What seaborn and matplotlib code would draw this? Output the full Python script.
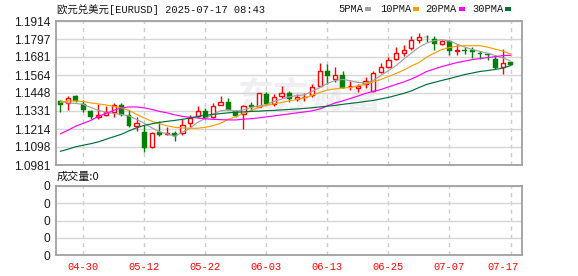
import numpy as np
import pandas as pd
import matplotlib
matplotlib.use("Agg")
import matplotlib.pyplot as plt
import matplotlib.transforms as mtransforms
from matplotlib.patches import Rectangle
import seaborn as sns

# ---------------- data ----------------
dates = pd.bdate_range("2025-04-25", "2025-07-17").strftime("%m-%d").tolist()

opens = [1.1393, 1.1380, 1.1425, 1.1376, 1.1333, 1.1294, 1.1304, 1.1326, 1.1372, 1.1307,
         1.1231, 1.1197, 1.1100, 1.1193, 1.1179, 1.1188, 1.1186, 1.1251, 1.1298, 1.1333,
         1.1290, 1.1372, 1.1391, 1.1328, 1.1311, 1.1372, 1.1359, 1.1440, 1.1376, 1.1427,
         1.1449, 1.1406, 1.1420, 1.1432, 1.1494, 1.1591, 1.1537, 1.1565, 1.1490, 1.1483,
         1.1505, 1.1462, 1.1585, 1.1617, 1.1666, 1.1709, 1.1737, 1.1791, 1.1811, 1.1800,
         1.1767, 1.1785, 1.1720, 1.1727, 1.1729, 1.1709, 1.1697, 1.1671, 1.1613, 1.1649]
highs = [1.1404, 1.1427, 1.1432, 1.1404, 1.1339, 1.1374, 1.1365, 1.1385, 1.1380, 1.1337,
         1.1290, 1.1242, 1.1193, 1.1268, 1.1225, 1.1203, 1.1279, 1.1304, 1.1365, 1.1350,
         1.1380, 1.1425, 1.1412, 1.1339, 1.1372, 1.1389, 1.1449, 1.1457, 1.1440, 1.1494,
         1.1462, 1.1440, 1.1449, 1.1505, 1.1640, 1.1634, 1.1617, 1.1587, 1.1527, 1.1509,
         1.1548, 1.1587, 1.1645, 1.1682, 1.1748, 1.1759, 1.1817, 1.1838, 1.1821, 1.1817,
         1.1789, 1.1791, 1.1763, 1.1746, 1.1746, 1.1720, 1.1703, 1.1692, 1.1731, 1.1649]
lows = [1.1326, 1.1337, 1.1386, 1.1326, 1.1279, 1.1279, 1.1296, 1.1295, 1.1298, 1.1225,
        1.1204, 1.1068, 1.1091, 1.1171, 1.1175, 1.1139, 1.1178, 1.1225, 1.1285, 1.1279,
        1.1285, 1.1370, 1.1337, 1.1294, 1.1214, 1.1328, 1.1354, 1.1372, 1.1365, 1.1414,
        1.1386, 1.1397, 1.1393, 1.1419, 1.1490, 1.1505, 1.1516, 1.1479, 1.1466, 1.1457,
        1.1483, 1.1457, 1.1580, 1.1608, 1.1662, 1.1688, 1.1724, 1.1769, 1.1780, 1.1727,
        1.1761, 1.1694, 1.1692, 1.1698, 1.1672, 1.1671, 1.1660, 1.1602, 1.1569, 1.1630]
closes = [1.1372, 1.1417, 1.1397, 1.1337, 1.1294, 1.1304, 1.1322, 1.1369, 1.1305, 1.1236,
          1.1251, 1.1091, 1.1186, 1.1178, 1.1188, 1.1167, 1.1242, 1.1285, 1.1333, 1.1285,
          1.1365, 1.1391, 1.1339, 1.1298, 1.1363, 1.1354, 1.1445, 1.1376, 1.1423, 1.1445,
          1.1408, 1.1423, 1.1423, 1.1488, 1.1587, 1.1559, 1.1565, 1.1483, 1.1494, 1.1496,
          1.1527, 1.1580, 1.1613, 1.1664, 1.1709, 1.1724, 1.1791, 1.1813, 1.1809, 1.1767,
          1.1785, 1.1720, 1.1729, 1.1722, 1.1711, 1.1701, 1.1694, 1.1611, 1.1643, 1.1630]

ma5 = [1.1393, 1.1383, 1.1380, 1.1374, 1.1354, 1.1335, 1.1322, 1.1315, 1.1309, 1.1299,
       1.1277, 1.1251, 1.1222, 1.1196, 1.1183, 1.1167, 1.1193, 1.1219, 1.1257, 1.1283,
       1.1309, 1.1332, 1.1339, 1.1328, 1.1338, 1.1354, 1.1364, 1.1372, 1.1393, 1.1408,
       1.1423, 1.1430, 1.1436, 1.1458, 1.1483, 1.1509, 1.1529, 1.1535, 1.1527, 1.1516,
       1.1512, 1.1529, 1.1561, 1.1593, 1.1625, 1.1667, 1.1706, 1.1744, 1.1771, 1.1787,
       1.1793, 1.1784, 1.1764, 1.1745, 1.1729, 1.1717, 1.1706, 1.1690, 1.1674, 1.1656]
ma10 = [1.1386, 1.1396, 1.1396, 1.1393, 1.1383, 1.1377, 1.1370, 1.1361, 1.1351, 1.1335,
        1.1309, 1.1286, 1.1264, 1.1248, 1.1235, 1.1225, 1.1221, 1.1219, 1.1219, 1.1225,
        1.1236, 1.1251, 1.1277, 1.1294, 1.1315, 1.1335, 1.1354, 1.1367, 1.1377, 1.1386,
        1.1396, 1.1406, 1.1416, 1.1432, 1.1451, 1.1467, 1.1474, 1.1480, 1.1483, 1.1493,
        1.1506, 1.1519, 1.1535, 1.1554, 1.1574, 1.1596, 1.1622, 1.1645, 1.1680, 1.1706,
        1.1729, 1.1742, 1.1751, 1.1754, 1.1754, 1.1754, 1.1745, 1.1731, 1.1719, 1.1700]
ma20 = [1.1183, 1.1206, 1.1232, 1.1251, 1.1270, 1.1296, 1.1315, 1.1335, 1.1351, 1.1357,
        1.1357, 1.1351, 1.1341, 1.1328, 1.1319, 1.1306, 1.1296, 1.1290, 1.1286, 1.1280,
        1.1277, 1.1275, 1.1273, 1.1273, 1.1278, 1.1281, 1.1286, 1.1293, 1.1299, 1.1306,
        1.1312, 1.1319, 1.1325, 1.1332, 1.1344, 1.1364, 1.1383, 1.1396, 1.1412, 1.1428,
        1.1445, 1.1458, 1.1470, 1.1487, 1.1503, 1.1519, 1.1538, 1.1561, 1.1587, 1.1603,
        1.1619, 1.1632, 1.1645, 1.1654, 1.1664, 1.1671, 1.1677, 1.1683, 1.1690, 1.1692]
ma30 = [1.1070, 1.1083, 1.1099, 1.1109, 1.1119, 1.1131, 1.1148, 1.1164, 1.1180, 1.1202,
        1.1222, 1.1238, 1.1248, 1.1257, 1.1264, 1.1270, 1.1277, 1.1286, 1.1296, 1.1303,
        1.1309, 1.1314, 1.1319, 1.1323, 1.1325, 1.1328, 1.1330, 1.1333, 1.1335, 1.1338,
        1.1341, 1.1344, 1.1348, 1.1352, 1.1357, 1.1362, 1.1367, 1.1374, 1.1380, 1.1386,
        1.1393, 1.1399, 1.1409, 1.1419, 1.1432, 1.1445, 1.1461, 1.1483, 1.1503, 1.1516,
        1.1529, 1.1541, 1.1554, 1.1567, 1.1577, 1.1587, 1.1593, 1.1600, 1.1609, 1.1625]

volume = [0] * 60
price_ticks = [1.0981, 1.1098, 1.1214, 1.1331, 1.1448, 1.1564, 1.1681, 1.1797, 1.1914]
xtick_labels = ["04-30", "05-12", "05-22", "06-03", "06-13", "06-25", "07-07", "07-17"]
ma_names = ["5PMA", "10PMA", "20PMA", "30PMA"]
title = "欧元兑美元[EURUSD] 2025-07-17 08:43"
vol_title = "成交量:0"

# ---------------- style ----------------
sns.set_theme(style="white")
plt.rcParams['font.family'] = ['Liberation Sans', 'Noto Sans CJK SC', 'DejaVu Sans']
MONO = ['Liberation Mono', 'Noto Sans CJK SC', 'DejaVu Sans']
CJK = ['Noto Sans CJK SC', 'DejaVu Sans']
ma_colors = ['#a0a0a0', '#f5a000', '#ff00ff', '#006f3a']
UP, DOWN = '#ff0000', '#008000'
BORDER = '#a0a0a0'

W, H = 578, 276
fig = plt.figure(figsize=(W / 100, H / 100), dpi=100)
fig.patch.set_facecolor('white')

def rect(l, t, r, b):
    return [l / W, 1 - b / H, (r - l) / W, (b - t) / H]

ax = fig.add_axes(rect(56, 21, 522, 165))
axv = fig.add_axes(rect(56, 186, 522, 255))

idx = np.arange(len(dates))
o = np.array(opens); h = np.array(highs); l = np.array(lows); c = np.array(closes)
up = c >= o
tick_pos = [dates.index(t) for t in xtick_labels]

# watermark
ax.text(0.545, 0.47, "东方财富", transform=ax.transAxes, ha='center', va='center',
        fontsize=26, color='#eeeef3', family=CJK, fontweight='bold', style='italic', zorder=0.5)

# candles
ax.vlines(idx[up], l[up], h[up], color=UP, lw=1.0, zorder=2)
ax.vlines(idx[~up], l[~up], h[~up], color=DOWN, lw=1.0, zorder=2)
bh = np.maximum(np.abs(c - o), 0.0004)
ax.bar(idx[up], bh[up], bottom=np.minimum(o, c)[up], width=0.56, facecolor='white',
       edgecolor=UP, linewidth=1.0, zorder=2.5)
ax.bar(idx[~up], bh[~up], bottom=np.minimum(o, c)[~up], width=0.64, facecolor=DOWN,
       edgecolor=DOWN, linewidth=0.3, zorder=2.5)

# moving averages
for vals, col in zip([ma5, ma10, ma20, ma30], ma_colors):
    sns.lineplot(x=idx, y=vals, ax=ax, color=col, lw=0.85, zorder=3, legend=False)

ax.set_xlim(-0.56, 60.5)
ax.set_ylim(price_ticks[0], price_ticks[-1])
ax.set_yticks(price_ticks)
ax.set_yticklabels([f"{v:.4f}" for v in price_ticks])
ax.set_xticks(tick_pos)
ax.tick_params(axis='x', length=0, labelbottom=False)
ax.tick_params(axis='y', length=3, width=1, color=BORDER, pad=1, labelsize=8.6,
               labelcolor='#1a1a1a')
ax.yaxis.grid(True, color='#d6d6d6', lw=1, ls='-')
ax.xaxis.grid(True, color='#cccccc', lw=1, ls=(0, (3, 3)))
ax.set_xlabel(''); ax.set_ylabel('')

# volume panel
axv.bar(idx, volume, width=0.6, color=DOWN)
axv.set_xlim(-0.56, 60.5)
axv.set_ylim(0, 4)
axv.set_yticks([0, 1, 2, 3, 4])
axv.set_yticklabels(["0"] * 5)
axv.set_xticks(tick_pos)
axv.set_xticklabels(xtick_labels, family=MONO, fontsize=7.5, color='#ff0000')
axv.tick_params(axis='x', length=0, pad=5)
axv.tick_params(axis='y', length=3, width=1, color=BORDER, pad=1, labelsize=8.6,
                labelcolor='#1a1a1a')
axv.yaxis.grid(True, color='#d6d6d6', lw=1, ls='-')
axv.xaxis.grid(True, color='#cccccc', lw=1, ls=(0, (3, 3)))
last = axv.get_xticklabels()[-1]
last.set_transform(last.get_transform() + mtransforms.ScaledTranslation(-8 / 100, 0, fig.dpi_scale_trans))

for a in (ax, axv):
    for s in a.spines.values():
        s.set_visible(True)
        s.set_color(BORDER)
        s.set_linewidth(1.3)
    a.set_facecolor('white')

# title, legend, volume label
fig.text(57 / W, 1 - 10 / H, title, ha='left', va='center', fontsize=7.5, family=MONO, color='#111111')
fig.text(57 / W, 1 - 177 / H, vol_title, ha='left', va='center', fontsize=8, family=CJK, color='#111111')
leg_x = [338, 380, 425, 472]
sq_x = [365, 413, 459, 505]
for name, col, tx, sx in zip(ma_names, ma_colors, leg_x, sq_x):
    fig.text(tx / W, 1 - 9 / H, name, ha='left', va='center', fontsize=7.5, family=MONO, color='#111111')
    fig.patches.append(Rectangle((sx / W, 1 - 11 / H), 6 / W, 4 / H, transform=fig.transFigure,
                                 facecolor=col, edgecolor='none'))

fig.savefig("out.png", dpi=100, facecolor='white')
